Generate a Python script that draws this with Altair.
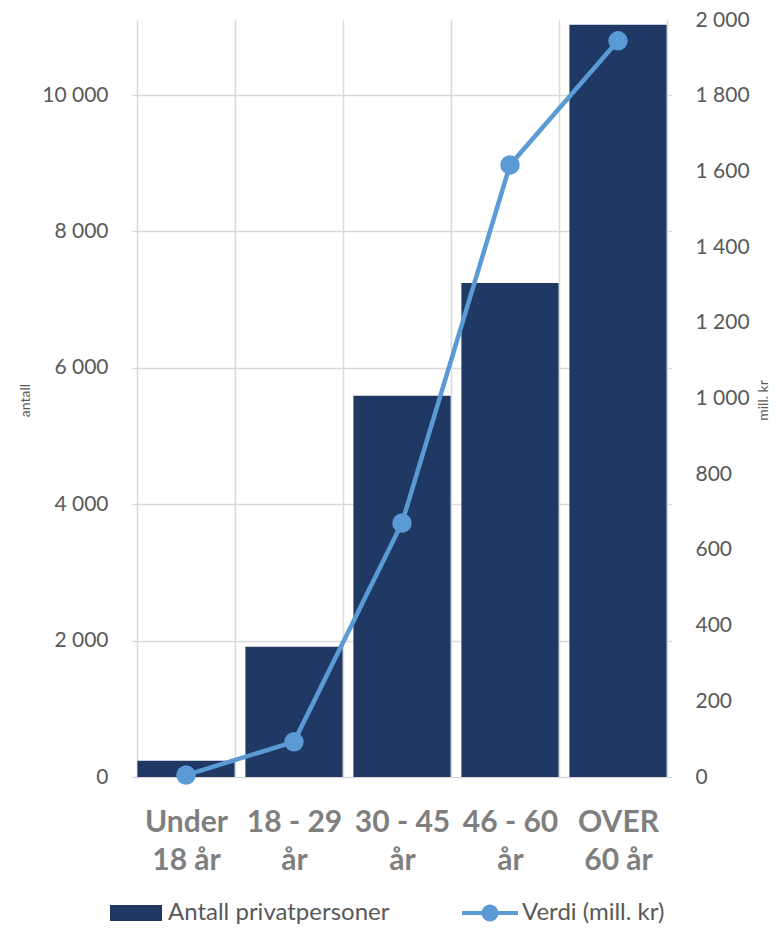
import altair as alt
import pandas as pd

# ---- data ----
categories = ["Under\n18 år", "18 - 29\når", "30 - 45\når", "46 - 60\når", "OVER\n60 år"]
antall = [240, 1910, 5590, 7245, 11030]          # Antall privatpersoner (left axis)
verdi = [5, 93, 671, 1617, 1945]                  # Verdi (mill. kr) (right axis)
left_ticks = [0, 2000, 4000, 6000, 8000, 10000]
right_ticks = [0, 200, 400, 600, 800, 1000, 1200, 1400, 1600, 1800, 2000]
series_bar = "Antall privatpersoner"
series_line = "Verdi (mill. kr)"

BAR_COLOR = "#203864"
LINE_COLOR = "#5B9BD5"
GRID = "#D9D9D9"
TXT = "#595959"
FONT = "Lato"

df = pd.DataFrame({
    "kategori": categories,
    "antall": antall,
    "verdi": verdi,
    "s1": series_bar,
    "s2": series_line,
})

space_fmt = "replace(format(datum.value, ','), ',', ' ')"

x_enc = alt.X(
    "kategori:N",
    sort=categories,
    scale=alt.Scale(paddingInner=0.1, paddingOuter=0.05),
    axis=alt.Axis(
        title=None,
        labelExpr="split(datum.label, '\\n')",
        labelFont=FONT, labelFontSize=30, labelFontWeight="bold",
        labelColor="#7F7F7F", labelLineHeight=38, labelPadding=30,
        labelAngle=0, ticks=False, domain=False,
        grid=True, gridColor=GRID, gridWidth=1.5, tickBand="extent",
    ),
)

bars = alt.Chart(df).mark_bar().encode(
    x=x_enc,
    y=alt.Y(
        "antall:Q",
        scale=alt.Scale(domain=[0, 11100], nice=False, zero=True),
        axis=alt.Axis(
            values=left_ticks, labelExpr=space_fmt,
            labelFont=FONT, labelFontSize=21, labelColor=TXT, labelPadding=24,
            ticks=False, domain=False, grid=True, gridColor=GRID, gridWidth=1.5,
            title="antall", titleFont=FONT, titleFontSize=14, titleFontWeight="normal",
            titleColor=TXT, titleAngle=270, titleBaseline="middle", titleAlign="center",
            titleX=-107, titleY=380,
        ),
    ),
    color=alt.Color(
        "s1:N",
        scale=alt.Scale(domain=[series_bar], range=[BAR_COLOR]),
        legend=alt.Legend(
            orient="none", legendX=-22, legendY=867, title=None, padding=0,
            symbolType="M-1,-0.3077H1V0.3077H-1Z", symbolSize=2704,
            symbolStrokeWidth=0, labelFont=FONT, labelFontSize=24,
            labelColor=TXT, labelOffset=6, labelLimit=500,
        ),
    ),
)

line = alt.Chart(df).mark_line(
    strokeWidth=4.5,
    point=alt.OverlayMarkDef(filled=True, size=380, opacity=1),
).encode(
    x=x_enc,
    y=alt.Y(
        "verdi:Q",
        scale=alt.Scale(domain=[0, 2000], nice=False, zero=True),
        axis=alt.Axis(
            orient="right", values=right_ticks, labelExpr=space_fmt,
            labelFont=FONT, labelFontSize=21, labelColor=TXT, labelPadding=23,
            ticks=False, domain=False, grid=False,
            title="mill. kr", titleFont=FONT, titleFontSize=14, titleFontWeight="normal",
            titleColor=TXT, titleAngle=270, titleBaseline="middle", titleAlign="center",
            titleX=91, titleY=380,
        ),
    ),
    color=alt.Color(
        "s2:N",
        scale=alt.Scale(domain=[series_line], range=[LINE_COLOR]),
        legend=alt.Legend(
            orient="none", legendX=330, legendY=865, title=None, padding=0,
            symbolType="M-1,-0.0714H1V0.0714H-1Z M0.3,0A0.3,0.3 0 1,1 -0.3,0A0.3,0.3 0 1,1 0.3,0Z",
            symbolSize=3136, symbolStrokeWidth=0, symbolFillColor=LINE_COLOR,
            symbolOpacity=1,
            labelFont=FONT, labelFontSize=24, labelColor=TXT, labelOffset=4,
            labelLimit=500,
        ),
    ),
)

chart = alt.layer(bars, line).resolve_scale(
    y="independent", color="independent"
).properties(
    width=540,
    height=757,
    padding={"left": 124, "top": 12, "right": 98, "bottom": 148},
    autosize=alt.AutoSizeParams(type="none"),
).configure_view(stroke=None)

chart.save("out.html", embed_options={"renderer": "svg", "actions": False})
